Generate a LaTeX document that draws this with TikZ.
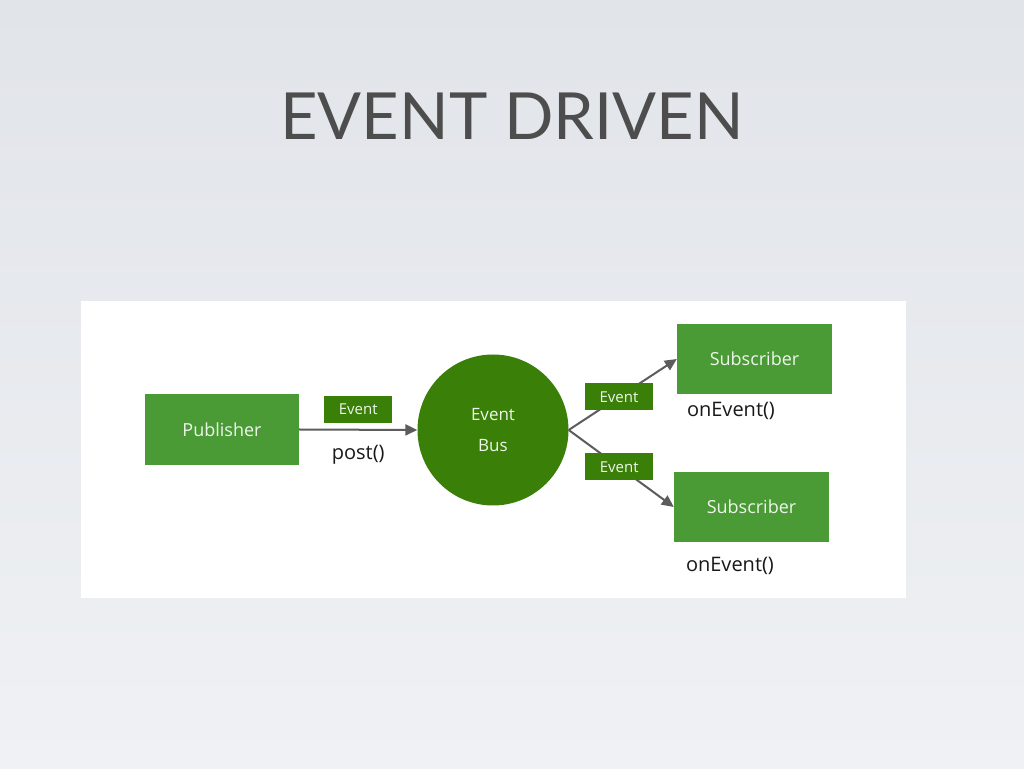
\documentclass[tikz,border=0pt]{standalone}
\usepackage{fontspec}
\usepackage{tikz}
\usetikzlibrary{positioning, arrows.meta}
\newfontfamily\titlefont{Lato}
\newfontfamily\diafont{Open Sans}
\definecolor{boxgreen}{HTML}{4A9A36}
\definecolor{darkgreen}{HTML}{3A7F08}
\definecolor{arrowgray}{HTML}{5C5C5C}
\definecolor{titlegray}{HTML}{4D4D4D}
\definecolor{boxtext}{HTML}{EEF6EA}
\definecolor{bgtop}{HTML}{E1E4E9}
\definecolor{bgbottom}{HTML}{EFF1F4}

\begin{document}
\begin{tikzpicture}[x=1pt, y=1pt,
    actor/.style={fill=boxgreen, text=boxtext, minimum width=155pt, minimum height=70pt, inner sep=0pt,
      font=\diafont\fontsize{18}{20}\selectfont},
    evlabel/.style={fill=darkgreen, text=boxtext, minimum width=68pt, minimum height=27pt, inner sep=0pt,
      font=\diafont\fontsize{15}{18}\selectfont},
    method/.style={inner sep=0pt, text=black!90, font=\diafont\fontsize{20}{24}\selectfont},
    flow/.style={draw=arrowgray, line width=2pt, -{Triangle[length=12pt, width=11pt]}}]

    % Background and white panel
    \useasboundingbox (0,0) rectangle (1024,768);
    \fill[top color=bgtop, bottom color=bgbottom] (0,0) rectangle (1024,768);
    \fill[white] (81,170) rectangle (906,467);

    % Title
    \node[anchor=base, text=titlegray, font=\titlefont\fontsize{65}{70}\selectfont] (title) at (512,628) {EVENT DRIVEN};

    % Nodes
    \node[actor, minimum width=154pt, minimum height=71pt] (pub) at (222,338.5) {Publisher};
    \node[circle, fill=darkgreen, text=boxtext, minimum size=151pt, inner sep=0pt, align=center,
      font=\diafont\fontsize{17}{31}\selectfont] (bus) at (493,338) {Event\\Bus};
    \node[actor] (subA) at (754.5,409) {Subscriber};
    \node[actor] (subB) at (751.5,261) {Subscriber};

    % Draw the connectors
    \draw[flow] (pub.east) -- (bus.west)
      node[evlabel, midway, above=6pt] (evA) {Event}
      node[method, midway, below=14pt] (post) {post()};
    \draw[flow] (bus.east) -- (subA.west) node[evlabel, pos=0.465] (evB) {Event};
    \draw[flow] (bus.east) -- (subB.west) node[evlabel, pos=0.48] (evC) {Event};

    % Method labels
    \node[method, below right=8pt and 10pt of subA.south west] (onA) {onEvent()};
    \node[method, below right=15pt and 12pt of subB.south west] (onB) {onEvent()};
\end{tikzpicture}
\end{document}
